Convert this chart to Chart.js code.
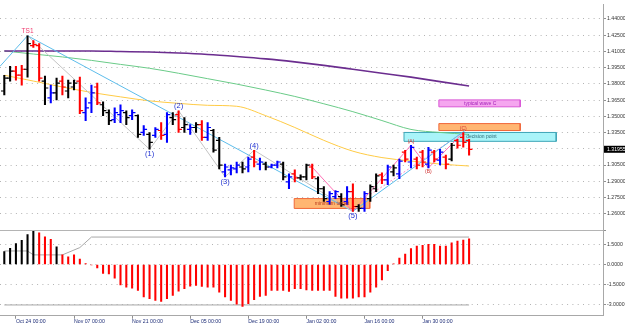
<!DOCTYPE html>
<html>
<head>
<meta charset="utf-8">
<script src="https://cdn.jsdelivr.net/npm/chart.js@4.4.0/dist/chart.umd.min.js"></script>
<style>
  body { margin: 0; background: #fff; }
  canvas { display: block; }
</style>
</head>
<body>
<canvas id="graph" width="625" height="325"></canvas>
<script>
// x axis: one step = one daily bar
const tickIdx = [2, 12, 22, 32, 42, 52, 62, 72];
const tickLabels = ["Oct 24 00:00", "Nov 07 00:00", "Nov 21 00:00", "Dec 05 00:00",
  "Dec 19 00:00", "Jan 02 00:00", "Jan 16 00:00", "Jan 30 00:00"];
const priceTicks = [1.26, 1.275, 1.29, 1.305, 1.32, 1.335, 1.35, 1.365, 1.38, 1.395, 1.41, 1.425, 1.44];
const oscTicks = [-3, -1.5, 0, 1.5];

// OHLC bars
const open = [1.3734, 1.3853, 1.3917, 1.3880, 1.3935, 1.4154, 1.4154, 1.3826, 1.3670, 1.3716,
  1.3826, 1.3734, 1.3771, 1.3826, 1.3534, 1.3625, 1.3771, 1.3607, 1.3534, 1.3470,
  1.3515, 1.3534, 1.3506, 1.3506, 1.3351, 1.3333, 1.3324, 1.3369, 1.3333, 1.3488,
  1.3515, 1.3397, 1.3379, 1.3397, 1.3424, 1.3306, 1.3369, 1.3278, 1.2986, 1.3005,
  1.3014, 1.3032, 1.3032, 1.3123, 1.3059, 1.3059, 1.3032, 1.3050, 1.3059, 1.2895,
  1.2968, 1.2932, 1.2941, 1.3032, 1.2923, 1.2831, 1.2713, 1.2758, 1.2758, 1.2713,
  1.2804, 1.2667, 1.2649, 1.2740, 1.2831, 1.2959, 1.2913, 1.2986, 1.2968, 1.3169,
  1.3078, 1.3105, 1.3169, 1.3059, 1.3169, 1.3096, 1.3123, 1.3105, 1.3278, 1.3306,
  1.3278];
const high = [1.3880, 1.3962, 1.3962, 1.3971, 1.4245, 1.4199, 1.4172, 1.3871, 1.3789, 1.3853,
  1.3871, 1.3835, 1.3835, 1.3862, 1.3670, 1.3789, 1.3807, 1.3634, 1.3561, 1.3579,
  1.3607, 1.3552, 1.3561, 1.3515, 1.3415, 1.3351, 1.3397, 1.3442, 1.3534, 1.3534,
  1.3552, 1.3488, 1.3424, 1.3442, 1.3461, 1.3442, 1.3379, 1.3306, 1.3059, 1.3050,
  1.3078, 1.3078, 1.3123, 1.3187, 1.3114, 1.3078, 1.3059, 1.3087, 1.3078, 1.2968,
  1.3005, 1.2959, 1.3059, 1.3059, 1.2941, 1.2850, 1.2804, 1.2813, 1.2786, 1.2850,
  1.2877, 1.2685, 1.2804, 1.2868, 1.2968, 1.2977, 1.3050, 1.3050, 1.3105, 1.3187,
  1.3233, 1.3123, 1.3187, 1.3214, 1.3187, 1.3196, 1.3141, 1.3251, 1.3287, 1.3351,
  1.3287];
const low = [1.3698, 1.3826, 1.3835, 1.3789, 1.3862, 1.4136, 1.3826, 1.3607, 1.3625, 1.3652,
  1.3698, 1.3670, 1.3743, 1.3524, 1.3461, 1.3534, 1.3607, 1.3506, 1.3424, 1.3442,
  1.3442, 1.3424, 1.3470, 1.3306, 1.3324, 1.3196, 1.3306, 1.3287, 1.3260, 1.3424,
  1.3351, 1.3351, 1.3333, 1.3351, 1.3278, 1.3278, 1.3169, 1.3014, 1.2941, 1.2959,
  1.2977, 1.2977, 1.2986, 1.3032, 1.3005, 1.3005, 1.3023, 1.3023, 1.2913, 1.2831,
  1.2895, 1.2913, 1.2913, 1.2923, 1.2786, 1.2713, 1.2685, 1.2740, 1.2667, 1.2685,
  1.2622, 1.2622, 1.2622, 1.2713, 1.2804, 1.2877, 1.2868, 1.2950, 1.2923, 1.3078,
  1.3023, 1.3014, 1.3032, 1.3023, 1.3078, 1.3050, 1.3014, 1.3087, 1.3205, 1.3214,
  1.3141];
const close = [1.3853, 1.3917, 1.3880, 1.3935, 1.4172, 1.4163, 1.3853, 1.3762, 1.3716, 1.3807,
  1.3771, 1.3807, 1.3807, 1.3552, 1.3579, 1.3716, 1.3625, 1.3552, 1.3461, 1.3534,
  1.3552, 1.3488, 1.3534, 1.3333, 1.3379, 1.3260, 1.3379, 1.3324, 1.3515, 1.3470,
  1.3379, 1.3424, 1.3397, 1.3424, 1.3306, 1.3397, 1.3187, 1.3050, 1.3032, 1.3023,
  1.3050, 1.3014, 1.3105, 1.3078, 1.3078, 1.3032, 1.3050, 1.3078, 1.2941, 1.2941,
  1.2932, 1.2941, 1.3050, 1.2941, 1.2831, 1.2740, 1.2786, 1.2804, 1.2685, 1.2804,
  1.2667, 1.2649, 1.2786, 1.2850, 1.2950, 1.2913, 1.3032, 1.3023, 1.3087, 1.3105,
  1.3214, 1.3050, 1.3078, 1.3187, 1.3105, 1.3169, 1.3059, 1.3233, 1.3233, 1.3260,
  1.31955];
const barColor = ["k", "k", "r", "r", "k", "r", "r", "k", "b", "k",
  "r", "k", "k", "r", "b", "b", "r", "k", "k", "b",
  "b", "k", "b", "k", "b", "k", "b", "r", "b", "k",
  "r", "k", "b", "k", "r", "b", "k", "k", "b", "b",
  "b", "k", "b", "r", "b", "k", "b", "b", "k", "b",
  "r", "k", "k", "r", "k", "k", "b", "b", "k", "b",
  "r", "k", "b", "k", "k", "r", "b", "k", "b", "r",
  "b", "r", "r", "b", "r", "b", "r", "k", "r", "r",
  "r"];

// moving averages, read every 5 bars
const maIdx = [0, 5, 10, 15, 20, 25, 30, 35, 40, 45, 50, 55, 60, 65, 70, 75, 80];
const maSlow = [1.4104, 1.4104, 1.4104, 1.4104, 1.4099, 1.4094, 1.4085, 1.4072, 1.4053, 1.4031,
  1.4003, 1.3971, 1.3935, 1.3898, 1.3862, 1.3821, 1.3780];
const maMid = [1.4104, 1.4076, 1.4049, 1.4017, 1.3980, 1.3944, 1.3898, 1.3848, 1.3798, 1.3743,
  1.3684, 1.3616, 1.3543, 1.3461, 1.3379, 1.3351, 1.3333];
const maFast = [1.3880, 1.3826, 1.3771, 1.3721, 1.3680, 1.3643, 1.3620, 1.3602, 1.3593, 1.3506,
  1.3397, 1.3278, 1.3178, 1.3119, 1.3087, 1.3059, 1.3041];

// wave lines
const trendIdx = [-0.74, 4, 60];
const trendVal = [1.3962, 1.4245, 1.2622];
const trend2Idx = [60, 79.3];
const trend2Val = [1.2622, 1.3369];
const waveIdx = [4, 25, 30, 38, 43, 60];
const waveVal = [1.4245, 1.3196, 1.3552, 1.2941, 1.3187, 1.2622];
const abcIdx = [52.5, 60, 70, 73, 79];
const abcVal = [1.3059, 1.2622, 1.3233, 1.3023, 1.3351];
const chanIdx = [63, 79];
const chanVal = [1.2777, 1.3351];

// zones
const boxFrom = [49.9, 68.8, 74.8, 74.8];
const boxTo = [62.9, 95.0, 88.8, 88.8];
const boxTop = [1.2740, 1.3351, 1.3433, 1.3652];
const boxBottom = [1.2649, 1.3269, 1.3369, 1.3588];
const boxText = ["minimum target", "decision point", "", "typical wave C"];

// oscillator
const osc = [0.95, 1.2, 1.54, 1.78, 2.22, 2.46, 2.34, 2.05, 1.86, 1.3,
  0.71, 0.56, 0.71, 0.39, 0.07, -0.04, -0.26, -0.66, -0.7, -1.02,
  -1.51, -1.68, -1.76, -1.92, -2.41, -2.53, -2.66, -2.73, -2.53, -2.29,
  -1.97, -1.8, -1.61, -1.56, -1.63, -1.68, -1.68, -2.05, -2.41, -2.66,
  -2.95, -3.1, -2.9, -2.6, -2.36, -2.29, -1.92, -1.92, -1.92, -2.0,
  -1.8, -1.8, -1.88, -1.92, -1.92, -1.92, -1.92, -2.36, -2.49, -2.49,
  -2.49, -2.41, -2.41, -2.05, -1.68, -1.14, -0.46, 0.05, 0.47, 0.76,
  1.17, 1.37, 1.42, 1.49, 1.49, 1.37, 1.37, 1.61, 1.73, 1.81,
  1.9];
const oscBlack = [0, 1, 2, 3, 4, 5, 9];
const sigIdx = [0, 4, 5, 10, 13, 15, 80];
const sigUpper = [1.0, 1.0, 0.71, 0.71, 1.25, 2.03, 2.03];
const sigLowIdx = [0, 80];
const sigLower = [-3.0, -3.0];

const waveLabels = [
  { bar: 4, text: "TS1", at: "high" },
  { bar: 25, text: "(1)", at: "low" },
  { bar: 30, text: "(2)", at: "high" },
  { bar: 38, text: "(3)", at: "low" },
  { bar: 43, text: "(4)", at: "high" },
  { bar: 60, text: "(5)", at: "low" },
  { bar: 70, text: "(A)", at: "high" },
  { bar: 73, text: "(B)", at: "low" },
  { bar: 79, text: "(C)", at: "high" },
];

Chart.defaults.font.family = "'Liberation Sans', Arial, sans-serif";

const colorOf = { k: "#000000", r: "#FF0000", b: "#0000FF" };
const barColors = barColor.map((c) => colorOf[c]);

function pts(xs, ys) {
  return xs.map((x, i) => ({ x: x, y: ys[i] }));
}

function lineSet(xs, ys, color, width, extra) {
  return Object.assign({
    type: "line",
    data: pts(xs, ys),
    borderColor: color,
    borderWidth: width,
    pointRadius: 0,
    fill: false,
    yAxisID: "y",
    order: 8,
  }, extra || {});
}

const boxStyles = [
  { fill: "#FFB672", line: "#F0683A" },
  { fill: "#A9F4F9", line: "#3FA6B8" },
  { fill: "#FFB672", line: "#F0683A" },
  { fill: "#F5A6EF", line: "#D957D6" },
];

const boxSets = boxFrom.map((x1, i) => ({
  type: "line",
  data: [
    { x: x1, y: boxTop[i] }, { x: boxTo[i], y: boxTop[i] },
    { x: boxTo[i], y: boxBottom[i] }, { x: x1, y: boxBottom[i] },
    { x: x1, y: boxTop[i] },
  ],
  borderColor: boxStyles[i].line,
  backgroundColor: boxStyles[i].fill,
  borderWidth: 1,
  fill: "shape",
  pointRadius: 0,
  yAxisID: "y",
  order: 20,
}));

const idx = high.map((h, i) => i);

const datasets = [
  ...boxSets,
  lineSet(maIdx, maSlow, "#6B2D8F", 1.6, { cubicInterpolationMode: "monotone", order: 10 }),
  lineSet(maIdx, maMid, "#6ACB88", 1, { cubicInterpolationMode: "monotone", order: 10 }),
  lineSet(maIdx, maFast, "#FFCB45", 1, { cubicInterpolationMode: "monotone", order: 10 }),
  lineSet(waveIdx, waveVal, "#C4C4C4", 1),
  lineSet(trendIdx, trendVal, "#5DBDEB", 1),
  lineSet(trend2Idx, trend2Val, "#5DBDEB", 1),
  lineSet(abcIdx, abcVal, "#FF6FB5", 1),
  lineSet(chanIdx, chanVal, "#FF8CC6", 1, { borderDash: [2, 2] }),
  {
    type: "bar",
    data: idx.map((i) => ({ x: i, y: [low[i], high[i]] })),
    backgroundColor: barColors,
    barThickness: 1.4,
    grouped: false,
    yAxisID: "y",
    order: 2,
  },
  {
    type: "line",
    data: pts(idx.map((i) => i - 0.3), open),
    showLine: false,
    pointStyle: "line",
    pointRadius: 1.6,
    pointBorderWidth: 1.2,
    pointBorderColor: barColors,
    yAxisID: "y",
    order: 1,
  },
  {
    type: "line",
    data: pts(idx.map((i) => i + 0.3), close),
    showLine: false,
    pointStyle: "line",
    pointRadius: 1.6,
    pointBorderWidth: 1.2,
    pointBorderColor: barColors,
    yAxisID: "y",
    order: 1,
  },
  {
    type: "bar",
    data: pts(idx, osc),
    backgroundColor: idx.map((i) => (oscBlack.includes(i) ? "#000000" : "#FF0000")),
    barThickness: 1.4,
    grouped: false,
    yAxisID: "yOsc",
    order: 2,
  },
  lineSet(sigIdx, sigUpper, "#A8A8A8", 1, { yAxisID: "yOsc", order: 3 }),
  lineSet(sigLowIdx, sigLower, "#A8A8A8", 1, { yAxisID: "yOsc", order: 3 }),
];

const labelStyle = {
  TS1: { font: "6.5px 'Liberation Sans'", color: "#F03A6E" },
  num: { font: "7.5px 'Liberation Sans'", color: "#1E2FD0" },
  abc: { font: "5px 'Liberation Sans'", color: "#D03030" },
};

const marksPlugin = {
  id: "marks",
  afterDatasetsDraw(chart) {
    const { ctx } = chart;
    const x = chart.scales.x;
    const y = chart.scales.y;
    ctx.save();
    ctx.textAlign = "center";
    waveLabels.forEach((l) => {
      const st = l.text === "TS1" ? labelStyle.TS1 : /\d/.test(l.text) ? labelStyle.num : labelStyle.abc;
      ctx.font = st.font;
      ctx.fillStyle = st.color;
      const px = x.getPixelForValue(l.bar);
      if (l.at === "high") {
        ctx.textBaseline = "bottom";
        ctx.fillText(l.text, px, y.getPixelForValue(high[l.bar]) - 1);
      } else {
        ctx.textBaseline = "top";
        ctx.fillText(l.text, px, y.getPixelForValue(low[l.bar]) + 1);
      }
    });
    // zone captions
    const capColor = ["#B83A1E", "#2D6E7A", "#000", "#A21FB8"];
    ctx.font = "5px 'Liberation Sans'";
    ctx.textBaseline = "middle";
    boxText.forEach((t, i) => {
      if (!t) return;
      const mid = y.getPixelForValue((boxTop[i] + boxBottom[i]) / 2);
      ctx.fillStyle = capColor[i];
      if (i === 1) {
        ctx.textAlign = "left";
        ctx.fillText(t, x.getPixelForValue(79.5), mid);
      } else if (i === 3) {
        ctx.textAlign = "center";
        ctx.fillText(t, x.getPixelForValue(81.9), mid);
      } else {
        ctx.textAlign = "center";
        ctx.fillText(t, x.getPixelForValue((boxFrom[i] + boxTo[i]) / 2), mid);
      }
    });
    ctx.restore();
  },
  afterDraw(chart) {
    // current price tag on the price axis
    const { ctx, chartArea } = chart;
    const last = close[close.length - 1];
    const py = chart.scales.y.getPixelForValue(last);
    ctx.save();
    ctx.fillStyle = "#000";
    ctx.fillRect(chartArea.right + 1, py - 3.5, 30, 7);
    ctx.fillStyle = "#fff";
    ctx.font = "5.2px 'Liberation Sans'";
    ctx.textAlign = "left";
    ctx.textBaseline = "middle";
    ctx.fillText(last.toFixed(5), chartArea.right + 4, py);
    ctx.restore();
  },
};

const dotted = [1, 4.3];

new Chart(document.getElementById("graph"), {
  type: "line",
  data: { datasets: datasets },
  plugins: [marksPlugin],
  options: {
    responsive: false,
    animation: false,
    events: [],
    layout: { padding: 0, autoPadding: false },
    plugins: { legend: { display: false }, tooltip: { enabled: false } },
    scales: {
      x: {
        type: "linear",
        min: -0.74,
        max: 103.05,
        offset: false,
        afterBuildTicks: (s) => { s.ticks = tickIdx.map((v) => ({ value: v })); },
        ticks: {
          autoSkip: false,
          maxRotation: 0,
          align: "start",
          padding: 0,
          color: "#1F2E78",
          font: { size: 5.2 },
          callback: (v, i) => tickLabels[i],
        },
        grid: { offset: false, drawOnChartArea: false, drawTicks: true, tickLength: 3, color: "#909090" },
        border: { display: true, color: "#A8A8A8" },
      },
      y: {
        type: "linear",
        position: "right",
        stack: "panes",
        stackWeight: 229,
        min: 1.2448,
        max: 1.4537,
        afterBuildTicks: (s) => { s.ticks = priceTicks.map((v) => ({ value: v })); },
        afterFit: (s) => { s.width = 22; },
        ticks: {
          padding: 1,
          color: "#333",
          font: { size: 5.2 },
          callback: (v) => (Math.abs(v - 1.32) < 1e-6 ? "" : v.toFixed(5)),
        },
        grid: { color: "#B4B4B4", tickLength: 3, tickColor: "#909090" },
        border: { display: true, color: "#A8A8A8", dash: dotted },
      },
      yOsc: {
        type: "linear",
        position: "right",
        stack: "panes",
        stackWeight: 86.7,
        min: -3.8,
        max: 2.54,
        afterBuildTicks: (s) => { s.ticks = oscTicks.concat([2.54]).map((v) => ({ value: v })); },
        afterFit: (s) => { s.width = 22; },
        ticks: {
          padding: 1,
          color: "#333",
          font: { size: 5.2 },
          callback: (v) => (v > 2 ? "" : v.toFixed(4)),
        },
        grid: { color: "#B4B4B4", tickLength: 3, tickColor: "#909090" },
        border: {
          display: true,
          color: "#A8A8A8",
          dash: (c) => (c.tick && c.tick.value > 2 ? [] : dotted),
        },
      },
    },
  },
});
</script>
</body>
</html>
